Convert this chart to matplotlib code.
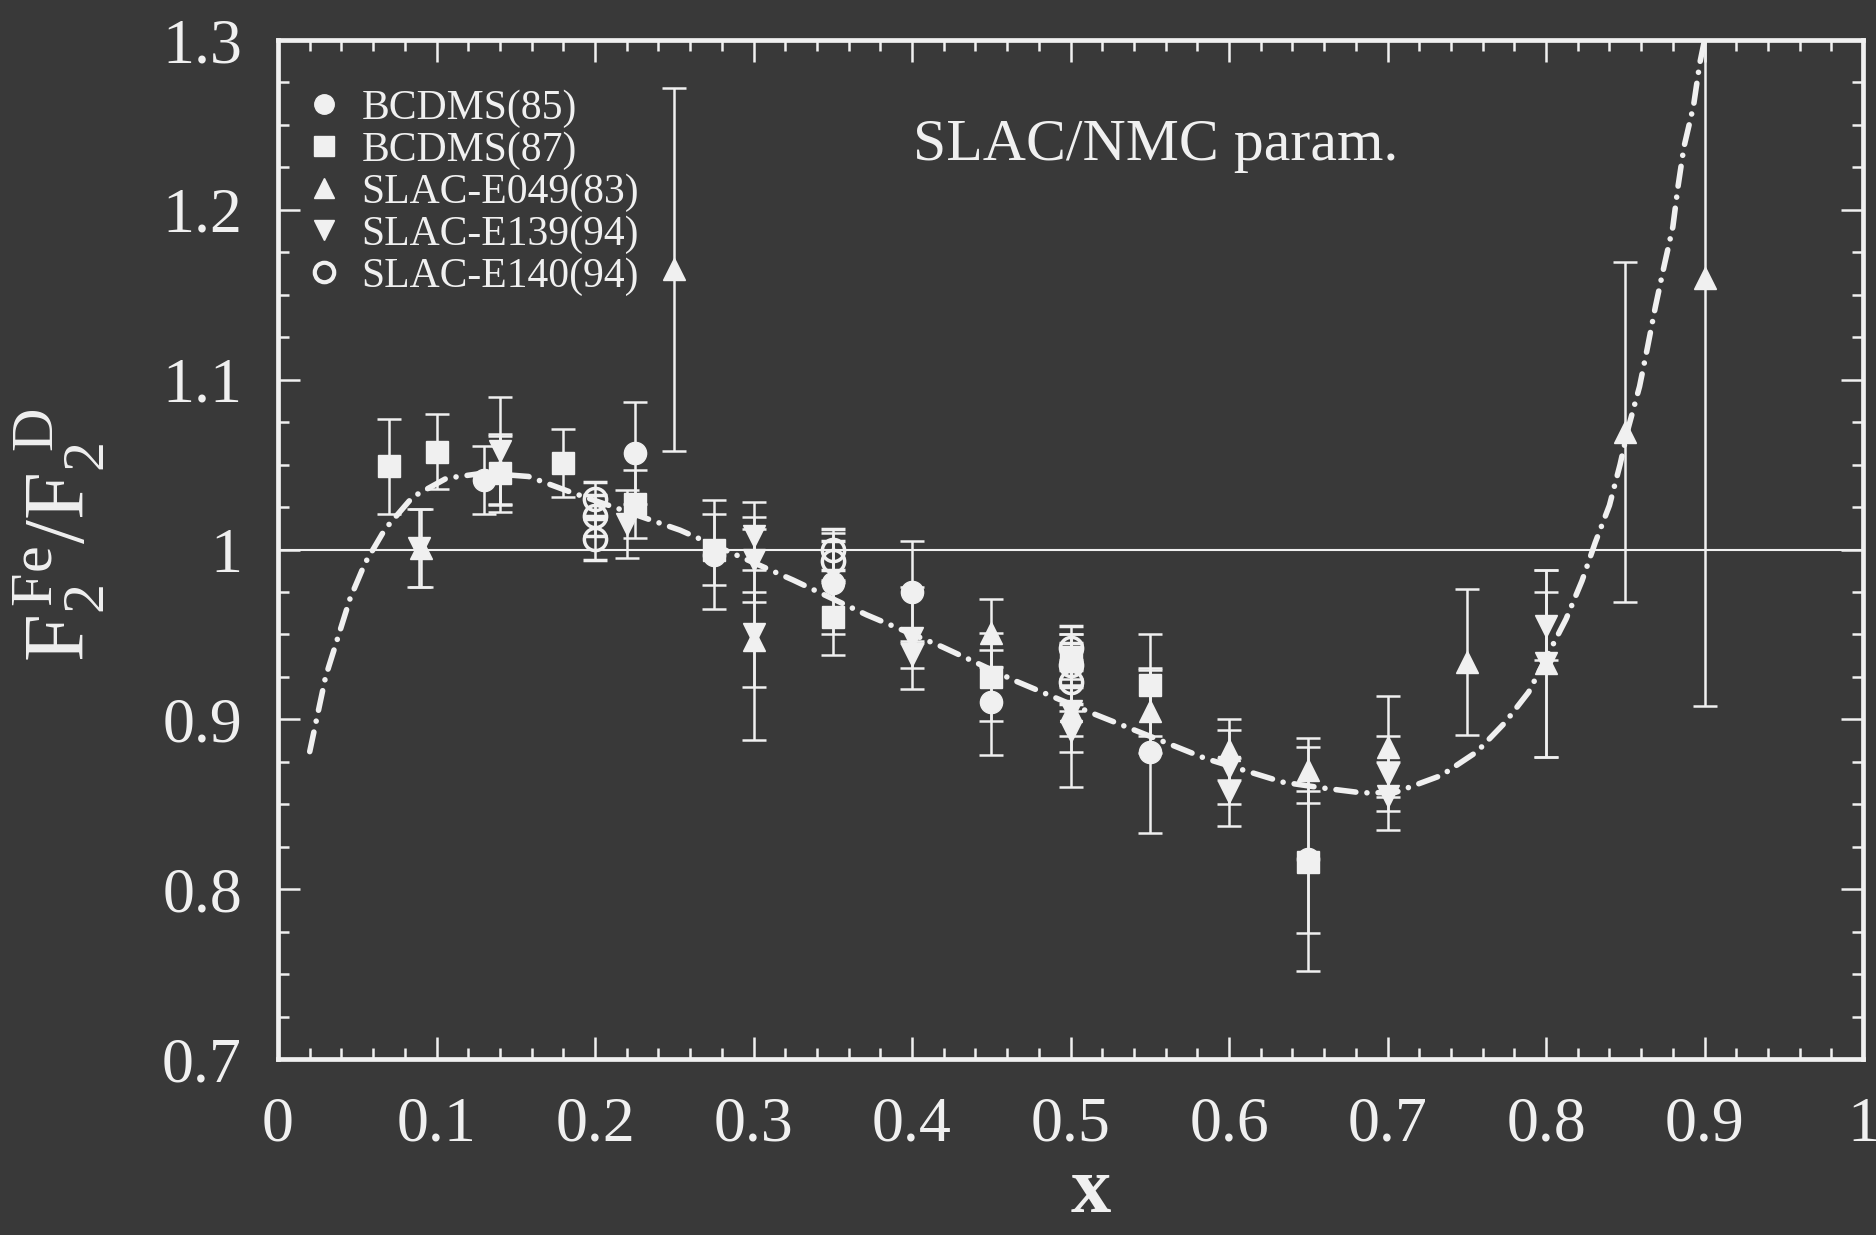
import numpy as np
import matplotlib
matplotlib.use("Agg")
import matplotlib.pyplot as plt
from matplotlib.ticker import MultipleLocator
from matplotlib.lines import Line2D

# ---- SLAC/NMC parametrisation (sampled) ----
param_x = [0.020, 0.030, 0.0454, 0.0549, 0.0675, 0.085, 0.1064, 0.130, 0.158, 0.184,
           0.2536, 0.325, 0.3714, 0.419, 0.465, 0.5134, 0.561, 0.585, 0.634, 0.659,
           0.684, 0.705, 0.734, 0.7565, 0.774, 0.789, 0.8126, 0.8227, 0.831, 0.840,
           0.8467, 0.852, 0.859, 0.864, 0.869, 0.8745, 0.880, 0.8833, 0.887, 0.893,
           0.897, 0.900]
param_y = [0.881, 0.925, 0.971, 0.992, 1.012, 1.031, 1.042, 1.045, 1.043, 1.034,
           1.0114, 0.982, 0.9615, 0.9427, 0.9227, 0.9037, 0.886, 0.877, 0.863, 0.8596,
           0.8567, 0.857, 0.867, 0.881, 0.898, 0.916, 0.959, 0.9816, 1.004, 1.026,
           1.050, 1.072, 1.096, 1.119, 1.143, 1.167, 1.190, 1.214, 1.237, 1.261,
           1.2864, 1.300]

# ---- BCDMS(85) ----
bcdms85_x = [0.13, 0.225, 0.275, 0.35, 0.40, 0.45, 0.55, 0.65]
bcdms85_y = [1.041, 1.057, 0.997, 0.980, 0.975, 0.910, 0.881, 0.818]
bcdms85_e = [0.020, 0.030, 0.032, 0.030, 0.030, 0.031, 0.048, 0.066]

# ---- BCDMS(87) ----
bcdms87_x = [0.07, 0.10, 0.14, 0.18, 0.225, 0.275, 0.35, 0.45, 0.50, 0.55, 0.65]
bcdms87_y = [1.049, 1.0575, 1.045, 1.051, 1.027, 1.000, 0.960, 0.925, 0.937, 0.920, 0.816]
bcdms87_e = [0.028, 0.022, 0.023, 0.020, 0.020, 0.021, 0.022, 0.026, 0.013, 0.030, 0.042]

# ---- SLAC-E049(83) ----
e049_x = [0.09, 0.14, 0.25, 0.30, 0.45, 0.50, 0.55, 0.60, 0.65, 0.70, 0.75, 0.80, 0.85, 0.90]
e049_y = [1.001, 1.047, 1.165, 0.947, 0.951, 0.905, 0.905, 0.882, 0.870, 0.884, 0.934, 0.933, 1.069, 1.160]
e049_e = [0.023, 0.020, 0.107, 0.028, 0.020, 0.045, 0.025, 0.018, 0.019, 0.030, 0.043, 0.055, 0.100, 0.252]

# ---- SLAC-E139(94) ----
e139_x = [0.089, 0.14, 0.22, 0.30, 0.30, 0.30, 0.40, 0.40, 0.50, 0.50,
          0.60, 0.60, 0.70, 0.70, 0.80, 0.80]
e139_y = [1.001, 1.058, 1.015, 1.008, 0.994, 0.950, 0.948, 0.938, 0.905, 0.893,
          0.872, 0.857, 0.868, 0.855, 0.955, 0.933]
e139_e = [0.023, 0.032, 0.020, 0.020, 0.025, 0.062, 0.030, 0.008, 0.015, 0.012,
          0.022, 0.020, 0.022, 0.020, 0.020, 0.055]

# ---- SLAC-E140(94) ----
e140_x = [0.20, 0.20, 0.20, 0.35, 0.35, 0.50, 0.50, 0.50]
e140_y = [1.006, 1.020, 1.030, 1.000, 0.993, 0.942, 0.932, 0.922]
e140_e = [0.012, 0.012, 0.010, 0.012, 0.012, 0.013, 0.013, 0.013]

x_ticks = [0, 0.1, 0.2, 0.3, 0.4, 0.5, 0.6, 0.7, 0.8, 0.9, 1]
x_tick_labels = ["0", "0.1", "0.2", "0.3", "0.4", "0.5", "0.6", "0.7", "0.8", "0.9", "1"]
y_ticks = [0.7, 0.8, 0.9, 1.0, 1.1, 1.2, 1.3]
y_tick_labels = ["0.7", "0.8", "0.9", "1", "1.1", "1.2", "1.3"]

BG = "#393939"
FG = "#f0f0f0"

plt.rcParams["font.family"] = ["Liberation Serif", "DejaVu Serif"]
plt.rcParams["mathtext.fontset"] = "custom"
plt.rcParams["mathtext.rm"] = "Liberation Serif"
plt.rcParams["mathtext.it"] = "Liberation Serif:italic"
plt.rcParams["mathtext.bf"] = "Liberation Serif:bold"

fig = plt.figure(figsize=(18.76, 12.35), dpi=100, facecolor=BG)
ax = fig.add_axes([0.1482, 0.1425, 0.8449, 0.8251], facecolor=BG)

ax.set_xlim(0, 1)
ax.set_ylim(0.7, 1.3)

# reference line at unity
ax.axhline(1.0, color=FG, lw=1.5, zorder=1)

common = dict(ls="none", ms=16, color=FG, ecolor=FG, elinewidth=1.8,
              capsize=8.5, capthick=1.8, zorder=3)
ax.errorbar(bcdms85_x, bcdms85_y, yerr=bcdms85_e, fmt="o", mfc=FG, mec=FG, **common)
ax.errorbar(bcdms87_x, bcdms87_y, yerr=bcdms87_e, fmt="s", mfc=FG, mec=FG, **common)
ax.errorbar(e049_x, e049_y, yerr=e049_e, fmt="^", mfc=FG, mec=FG, **common)
ax.errorbar(e139_x, e139_y, yerr=e139_e, fmt="v", mfc=FG, mec=FG, **common)
ax.errorbar(e140_x, e140_y, yerr=e140_e, fmt="o", mfc="none", mec=FG, mew=2.5, **common)

# parametrisation: dash-dot curve with round caps
ax.plot(param_x, param_y, color=FG, lw=4.0, ls=(0, (3.6, 2.0, 0.01, 2.0)),
        dash_capstyle="round", solid_capstyle="round", zorder=4)

ax.text(0.554, 0.896, "SLAC/NMC param.", transform=ax.transAxes, color=FG,
        fontsize=43, ha="center", va="center")

# axes styling
for sp in ax.spines.values():
    sp.set_color(FG)
    sp.set_linewidth(3.4)

ax.set_xticks(x_ticks)
ax.set_xticklabels(x_tick_labels)
ax.set_yticks(y_ticks)
ax.set_yticklabels(y_tick_labels)
ax.xaxis.set_minor_locator(MultipleLocator(0.02))
ax.yaxis.set_minor_locator(MultipleLocator(0.025))
ax.tick_params(which="both", direction="in", top=True, right=True, colors=FG,
               labelcolor=FG, labelsize=46)
ax.tick_params(which="major", length=16, width=1.8)
ax.tick_params(which="minor", length=8, width=1.8)
ax.tick_params(axis="x", which="major", pad=27)
ax.tick_params(axis="y", which="major", pad=26)

ax.set_xlabel("x", fontsize=58, fontweight="bold", color=FG)
ax.xaxis.set_label_coords(0.513, -0.095)
ax.set_ylabel(r"$\mathrm{F_2^{\,Fe}/F_2^{\;\,D}}$", fontsize=62, color=FG)
ax.yaxis.set_label_coords(-0.108, 0.514)

# legend
handles = [
    Line2D([], [], ls="none", marker="o", ms=14, mfc=FG, mec=FG),
    Line2D([], [], ls="none", marker="s", ms=14, mfc=FG, mec=FG),
    Line2D([], [], ls="none", marker="^", ms=14, mfc=FG, mec=FG),
    Line2D([], [], ls="none", marker="v", ms=14, mfc=FG, mec=FG),
    Line2D([], [], ls="none", marker="o", ms=14, mfc="none", mec=FG, mew=3),
]
labels = ["BCDMS(85)", "BCDMS(87)", "SLAC-E049(83)", "SLAC-E139(94)", "SLAC-E140(94)"]
leg = ax.legend(handles, labels, loc="upper left", bbox_to_anchor=(0.0, 0.98),
                frameon=False, fontsize=30, handlelength=0.8, handletextpad=0.5,
                labelspacing=0.08, borderaxespad=0.3)
for t in leg.get_texts():
    t.set_color(FG)

fig.savefig("out.png", dpi=100, facecolor=BG)
